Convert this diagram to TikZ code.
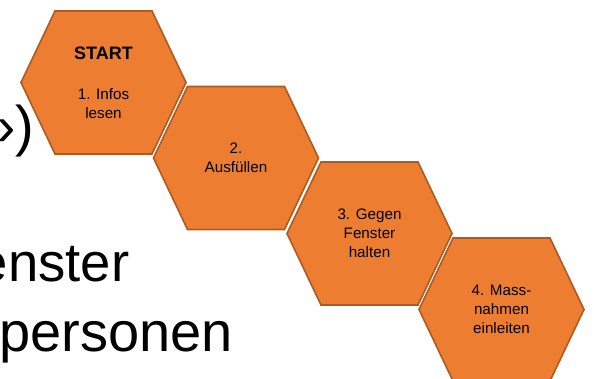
\documentclass[tikz,border=0pt]{standalone}
\usepackage{fontspec}
\setmainfont{Liberation Sans}
\definecolor{hexfill}{HTML}{ED7D31}
\definecolor{hexline}{HTML}{AE5A21}
\begin{document}
\begin{tikzpicture}[x=1pt,y=-1pt,
  hexagon/.style={fill=hexfill,draw=hexline,line width=1.6pt,line join=miter},
  hextext/.style={align=center,inner sep=0pt,font=\fontsize{15.2}{18.8}\selectfont},
  bigtext/.style={inner sep=0pt,font=\fontsize{56}{66}\selectfont}]
\clip (0,0) rectangle (594,379);
\fill[white] (0,0) rectangle (594,379);
% background text fragments
\node[bigtext,anchor=base east] (b1) at (34.5,146) {»)};
\node[bigtext,anchor=base east,font=\fontsize{54.5}{64}\selectfont] (b2) at (129.5,281.5) {enster};
\node[bigtext,anchor=base west] (b3) at (-1,351) {personen};
% hexagon centres
\coordinate (c1) at (103.5,82.5);
\coordinate (c2) at (236,158);
\coordinate (c3) at (369.5,233.5);
\coordinate (c4) at (501.5,309.5);
\foreach \c in {c1,c2,c3,c4}{
  \draw[hexagon,shift={(\c)}] (-82.5,0) -- (-48.5,-71.5) -- (48.5,-71.5) -- (82.5,0)
     -- (48.5,71.5) -- (-48.5,71.5) -- cycle;
}
\node[hextext] (t1) at (c1) {{\fontsize{18}{21}\selectfont\bfseries START}\\[21pt]1. Infos\\lesen};
\node[hextext] (t2) at (c2) {2.\\Ausfüllen};
\node[hextext] (t3) at (c3) {3. Gegen\\Fenster\\halten};
\node[hextext] (t4) at (c4) {4. Mass-\\nahmen\\einleiten};
\end{tikzpicture}
\end{document}
